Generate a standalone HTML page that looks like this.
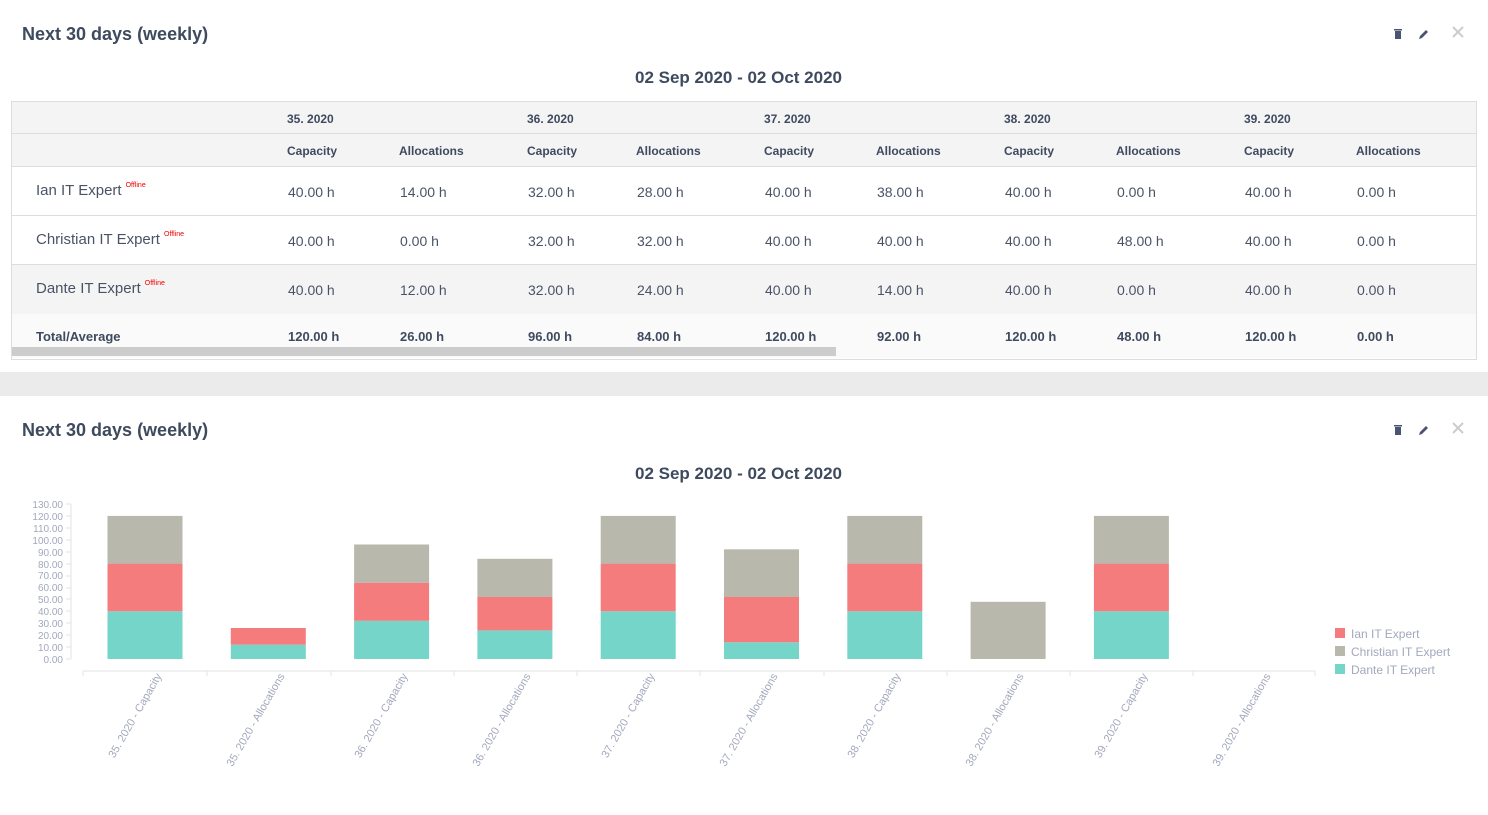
<!DOCTYPE html>
<html><head><meta charset="utf-8"><style>
body{margin:0;width:1488px;height:815px;background:#fff;font-family:"Liberation Sans",sans-serif;position:relative;overflow:hidden;color:#4a5366}
.a{position:absolute;white-space:nowrap}
.t{font-size:18px;font-weight:bold;color:#3e4a5e}
.h{font-size:12px;font-weight:bold;color:#3e4a5e}
.c{font-size:14px;color:#4a5366}
.n{font-size:15px;color:#4a5366}
.o{font-size:7px;color:#e00;vertical-align:top;margin-left:4px}
.b{font-size:13px;font-weight:bold;color:#3e4a5e}
</style></head><body>
<div class="a t" style="left:22px;top:24px">Next 30 days (weekly)</div>
<div class="a t" style="left:635px;top:68px;font-size:17px">02 Sep 2020 - 02 Oct 2020</div>
<svg class="a" style="left:0;top:0" width="1488" height="60">
<rect x="1395" y="31" width="6" height="8" fill="#4a5370"/><rect x="1394" y="29" width="8" height="1.5" fill="#4a5370"/>
<path d="M1419 39 l1-3 6-6 2 2 -6 6z" fill="#4a5370"/>
<path d="M1453 27 l10 10 M1463 27 l-10 10" stroke="#ccc" stroke-width="2"/>
</svg>
<div class="a" style="left:11px;top:101px;width:1464px;height:257px;border:1px solid #ddd;background:#fff"></div>
<div class="a" style="left:12px;top:102px;width:1464px;height:64px;background:#f4f4f4"></div>
<div class="a" style="left:12px;top:133px;width:1464px;height:1px;background:#ddd"></div>
<div class="a" style="left:12px;top:166px;width:1464px;height:1px;background:#ddd"></div>
<div class="a" style="left:12px;top:215px;width:1464px;height:1px;background:#ddd"></div>
<div class="a" style="left:12px;top:264px;width:1464px;height:49px;background:#f4f4f4;border-top:1px solid #ddd;border-bottom:1px solid #ddd"></div>
<div class="a" style="left:12px;top:314px;width:1464px;height:44px;background:#fafafa"></div>
<div class="a" style="left:12px;top:347px;width:824px;height:9px;background:#ccc"></div>
<div class="a h" style="left:287px;top:112px">35. 2020</div>
<div class="a h" style="left:527px;top:112px">36. 2020</div>
<div class="a h" style="left:764px;top:112px">37. 2020</div>
<div class="a h" style="left:1004px;top:112px">38. 2020</div>
<div class="a h" style="left:1244px;top:112px">39. 2020</div>
<div class="a h" style="left:287px;top:144px">Capacity</div><div class="a h" style="left:399px;top:144px">Allocations</div>
<div class="a h" style="left:527px;top:144px">Capacity</div><div class="a h" style="left:636px;top:144px">Allocations</div>
<div class="a h" style="left:764px;top:144px">Capacity</div><div class="a h" style="left:876px;top:144px">Allocations</div>
<div class="a h" style="left:1004px;top:144px">Capacity</div><div class="a h" style="left:1116px;top:144px">Allocations</div>
<div class="a h" style="left:1244px;top:144px">Capacity</div><div class="a h" style="left:1356px;top:144px">Allocations</div>
<div class="a n" style="left:36px;top:182px">Ian IT Expert<span class="o">Offline</span></div>
<div class="a n" style="left:36px;top:231px">Christian IT Expert<span class="o">Offline</span></div>
<div class="a n" style="left:36px;top:280px">Dante IT Expert<span class="o">Offline</span></div>
<div class="a b" style="left:36px;top:329px">Total/Average</div>
<div class="a c" style="left:288px;top:184px">40.00 h</div><div class="a c" style="left:400px;top:184px">14.00 h</div><div class="a c" style="left:528px;top:184px">32.00 h</div><div class="a c" style="left:637px;top:184px">28.00 h</div><div class="a c" style="left:765px;top:184px">40.00 h</div><div class="a c" style="left:877px;top:184px">38.00 h</div><div class="a c" style="left:1005px;top:184px">40.00 h</div><div class="a c" style="left:1117px;top:184px">0.00 h</div><div class="a c" style="left:1245px;top:184px">40.00 h</div><div class="a c" style="left:1357px;top:184px">0.00 h</div>
<div class="a c" style="left:288px;top:233px">40.00 h</div><div class="a c" style="left:400px;top:233px">0.00 h</div><div class="a c" style="left:528px;top:233px">32.00 h</div><div class="a c" style="left:637px;top:233px">32.00 h</div><div class="a c" style="left:765px;top:233px">40.00 h</div><div class="a c" style="left:877px;top:233px">40.00 h</div><div class="a c" style="left:1005px;top:233px">40.00 h</div><div class="a c" style="left:1117px;top:233px">48.00 h</div><div class="a c" style="left:1245px;top:233px">40.00 h</div><div class="a c" style="left:1357px;top:233px">0.00 h</div>
<div class="a c" style="left:288px;top:282px">40.00 h</div><div class="a c" style="left:400px;top:282px">12.00 h</div><div class="a c" style="left:528px;top:282px">32.00 h</div><div class="a c" style="left:637px;top:282px">24.00 h</div><div class="a c" style="left:765px;top:282px">40.00 h</div><div class="a c" style="left:877px;top:282px">14.00 h</div><div class="a c" style="left:1005px;top:282px">40.00 h</div><div class="a c" style="left:1117px;top:282px">0.00 h</div><div class="a c" style="left:1245px;top:282px">40.00 h</div><div class="a c" style="left:1357px;top:282px">0.00 h</div>
<div class="a b" style="left:288px;top:329px">120.00 h</div><div class="a b" style="left:400px;top:329px">26.00 h</div><div class="a b" style="left:528px;top:329px">96.00 h</div><div class="a b" style="left:637px;top:329px">84.00 h</div><div class="a b" style="left:765px;top:329px">120.00 h</div><div class="a b" style="left:877px;top:329px">92.00 h</div><div class="a b" style="left:1005px;top:329px">120.00 h</div><div class="a b" style="left:1117px;top:329px">48.00 h</div><div class="a b" style="left:1245px;top:329px">120.00 h</div><div class="a b" style="left:1357px;top:329px">0.00 h</div>

<div class="a" style="left:0;top:372px;width:1488px;height:24px;background:#ebebeb"></div>

<div class="a t" style="left:22px;top:420px">Next 30 days (weekly)</div>
<div class="a t" style="left:635px;top:464px;font-size:17px">02 Sep 2020 - 02 Oct 2020</div>
<svg class="a" style="left:0;top:396px" width="1488" height="60">
<rect x="1395" y="31" width="6" height="8" fill="#4a5370"/><rect x="1394" y="29" width="8" height="1.5" fill="#4a5370"/>
<path d="M1419 39 l1-3 6-6 2 2 -6 6z" fill="#4a5370"/>
<path d="M1453 27 l10 10 M1463 27 l-10 10" stroke="#ccc" stroke-width="2"/>
</svg>
<svg class="a" style="left:0;top:0" width="1488" height="815" font-family="Liberation Sans, sans-serif">
<g font-size="10" fill="#a3a8bc" text-anchor="end">
<text x="63" y="508">130.00</text><text x="63" y="520">120.00</text><text x="63" y="532">110.00</text><text x="63" y="544">100.00</text><text x="63" y="556">90.00</text><text x="63" y="568">80.00</text><text x="63" y="579">70.00</text><text x="63" y="591">60.00</text><text x="63" y="603">50.00</text><text x="63" y="615">40.00</text><text x="63" y="627">30.00</text><text x="63" y="639">20.00</text><text x="63" y="651">10.00</text><text x="63" y="663">0.00</text>
</g>
<path d="M71 504H66 M71 516H66 M71 528H66 M71 540H66 M71 552H66 M71 564H66 M71 576H66 M71 588H66 M71 599H66 M71 611H66 M71 623H66 M71 635H66 M71 647H66 M71 659H66 M71 504V659" stroke="#e3e3e3"/>
<path d="M83 671H1315 M83 671v5 M207 671v5 M331 671v5 M454 671v5 M577 671v5 M700 671v5 M824 671v5 M947 671v5 M1070 671v5 M1193 671v5 M1315 671v5" stroke="#e3e3e3"/>
<g>
<rect x="107.5" y="611.3" width="75" height="47.7" fill="#76d5c9"/><rect x="107.5" y="563.6" width="75" height="47.7" fill="#f47c7c"/><rect x="107.5" y="515.9" width="75" height="47.7" fill="#b8b8ac"/>
<rect x="230.8" y="644.7" width="75" height="14.3" fill="#76d5c9"/><rect x="230.8" y="628" width="75" height="16.7" fill="#f47c7c"/>
<rect x="354.1" y="620.8" width="75" height="38.2" fill="#76d5c9"/><rect x="354.1" y="582.7" width="75" height="38.1" fill="#f47c7c"/><rect x="354.1" y="544.5" width="75" height="38.2" fill="#b8b8ac"/>
<rect x="477.4" y="630.4" width="75" height="28.6" fill="#76d5c9"/><rect x="477.4" y="597" width="75" height="33.4" fill="#f47c7c"/><rect x="477.4" y="558.8" width="75" height="38.2" fill="#b8b8ac"/>
<rect x="600.7" y="611.3" width="75" height="47.7" fill="#76d5c9"/><rect x="600.7" y="563.6" width="75" height="47.7" fill="#f47c7c"/><rect x="600.7" y="515.9" width="75" height="47.7" fill="#b8b8ac"/>
<rect x="724" y="642.3" width="75" height="16.7" fill="#76d5c9"/><rect x="724" y="597" width="75" height="45.3" fill="#f47c7c"/><rect x="724" y="549.3" width="75" height="47.7" fill="#b8b8ac"/>
<rect x="847.3" y="611.3" width="75" height="47.7" fill="#76d5c9"/><rect x="847.3" y="563.6" width="75" height="47.7" fill="#f47c7c"/><rect x="847.3" y="515.9" width="75" height="47.7" fill="#b8b8ac"/>
<rect x="970.6" y="601.8" width="75" height="57.2" fill="#b8b8ac"/>
<rect x="1093.9" y="611.3" width="75" height="47.7" fill="#76d5c9"/><rect x="1093.9" y="563.6" width="75" height="47.7" fill="#f47c7c"/><rect x="1093.9" y="515.9" width="75" height="47.7" fill="#b8b8ac"/>
</g>
<g font-size="11" fill="#a3a8bc" text-anchor="end">
<text transform="translate(162,676) rotate(-60)">35. 2020 - Capacity</text>
<text transform="translate(285,676) rotate(-60)">35. 2020 - Allocations</text>
<text transform="translate(408,676) rotate(-60)">36. 2020 - Capacity</text>
<text transform="translate(531,676) rotate(-60)">36. 2020 - Allocations</text>
<text transform="translate(655,676) rotate(-60)">37. 2020 - Capacity</text>
<text transform="translate(778,676) rotate(-60)">37. 2020 - Allocations</text>
<text transform="translate(901,676) rotate(-60)">38. 2020 - Capacity</text>
<text transform="translate(1024,676) rotate(-60)">38. 2020 - Allocations</text>
<text transform="translate(1148,676) rotate(-60)">39. 2020 - Capacity</text>
<text transform="translate(1271,676) rotate(-60)">39. 2020 - Allocations</text>
</g>
<g font-size="12" fill="#a3a8bc">
<rect x="1335" y="628" width="10" height="10" fill="#f47c7c"/><text x="1351" y="638">Ian IT Expert</text>
<rect x="1335" y="646" width="10" height="10" fill="#b8b8ac"/><text x="1351" y="656">Christian IT Expert</text>
<rect x="1335" y="664" width="10" height="10" fill="#76d5c9"/><text x="1351" y="674">Dante IT Expert</text>
</g>
</svg>
</body></html>
